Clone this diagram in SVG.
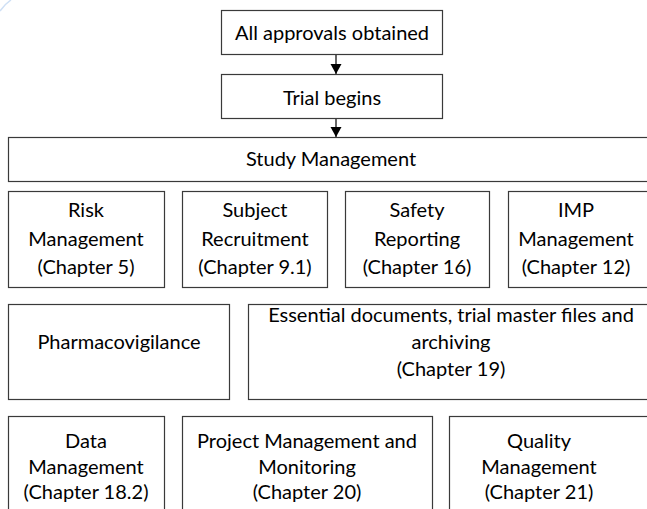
<svg xmlns="http://www.w3.org/2000/svg" width="647" height="509" viewBox="0 0 647 509">
<style>
.box{fill:#fff;stroke:#3a3a3a;stroke-width:1.2}
text{font-family:Lato,"Open Sans","Liberation Sans",sans-serif;font-size:20px;fill:#000;text-anchor:middle;dominant-baseline:central}
.conn{stroke:#000;stroke-width:1.2;fill:none}
.deco{stroke:#cfe0f5;stroke-width:1.5;fill:none}
</style>
<defs>
<marker id="arr" markerWidth="12" markerHeight="12" refX="10" refY="5.5" orient="auto" markerUnits="userSpaceOnUse">
<path d="M0,0 L10,5.5 L0,11 Z" fill="#000"/>
</marker>
</defs>
<path class="deco" d="M0,11 Q5,4 11,0"/>
<path class="deco" d="M628,472 Q622,486 628,500"/>
<g id="connectors">
<line class="conn" x1="336" y1="54.5" x2="336" y2="74" marker-end="url(#arr)"/>
<line class="conn" x1="336" y1="118.5" x2="336" y2="137" marker-end="url(#arr)"/>
</g>
<g id="approvals"><rect class="box" x="221.5" y="10.5" width="221" height="44"/><text x="332" y="32">All approvals obtained</text></g>
<g id="trial"><rect class="box" x="221.5" y="74.5" width="221" height="44"/><text x="332" y="97">Trial begins</text></g>
<g id="study"><rect class="box" x="8.5" y="137.5" width="660" height="44"/><text x="331" y="158">Study Management</text></g>
<g id="risk"><rect class="box" x="8.5" y="191.5" width="156" height="96"/><text x="86" y="209">Risk</text><text x="86" y="238">Management</text><text x="86" y="266">(Chapter 5)</text></g>
<g id="subject"><rect class="box" x="182.5" y="191.5" width="145" height="96"/><text x="255" y="209">Subject</text><text x="255" y="238">Recruitment</text><text x="255" y="266">(Chapter 9.1)</text></g>
<g id="safety"><rect class="box" x="345.5" y="191.5" width="144" height="96"/><text x="417" y="209">Safety</text><text x="417" y="238">Reporting</text><text x="417" y="266">(Chapter 16)</text></g>
<g id="imp"><rect class="box" x="508.5" y="191.5" width="160" height="96"/><text x="576" y="209">IMP</text><text x="576" y="238">Management</text><text x="576" y="266">(Chapter 12)</text></g>
<g id="pharma"><rect class="box" x="8.5" y="304.5" width="221" height="95"/><text x="119" y="341">Pharmacovigilance</text></g>
<g id="essential"><rect class="box" x="248.5" y="304.5" width="420" height="95"/><text x="451" y="314">Essential documents, trial master files and</text><text x="451" y="341">archiving</text><text x="451" y="368">(Chapter 19)</text></g>
<g id="data"><rect class="box" x="8.5" y="416.5" width="156" height="110"/><text x="86" y="440">Data</text><text x="86" y="466">Management</text><text x="86" y="491">(Chapter 18.2)</text></g>
<g id="project"><rect class="box" x="182.5" y="416.5" width="250" height="110"/><text x="307" y="440">Project Management and</text><text x="307" y="466">Monitoring</text><text x="307" y="491">(Chapter 20)</text></g>
<g id="quality"><rect class="box" x="449.5" y="416.5" width="220" height="110"/><text x="539" y="440">Quality</text><text x="539" y="466">Management</text><text x="539" y="491">(Chapter 21)</text></g>
</svg>
